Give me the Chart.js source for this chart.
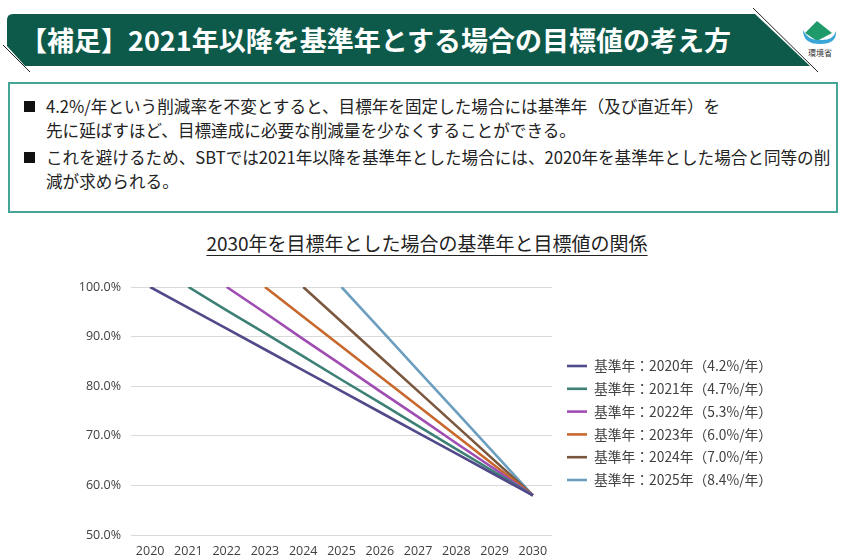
<!DOCTYPE html>
<html lang="ja">
<head>
<meta charset="utf-8">
<title>2030年を目標年とした場合の基準年と目標値の関係</title>
<script src="https://cdn.jsdelivr.net/npm/chart.js@4"></script>
<style>
body { margin: 0; width: 849px; height: 559px; overflow: hidden; background: #fff; position: relative; font-family: "Noto Sans CJK JP", "Noto Sans", sans-serif; color: #222; }
#head { position: absolute; left: 0; top: 0; }
#headTitle { position: absolute; left: 20px; top: 18px; color: #fff; font-weight: bold; font-size: 27px; line-height: 44px; white-space: nowrap; }
#box { position: absolute; left: 8px; top: 82px; width: 826px; height: 127px; border: 2px solid #45a597; }
.item { position: absolute; left: 14px; font-size: 16.6px; line-height: 23.5px; white-space: nowrap; }
.item .sq { position: absolute; left: 0; top: 6px; width: 11px; height: 11px; background: #111; }
.item .tx { margin-left: 22px; }
#chartTitle { position: absolute; left: 0; width: 854px; top: 229px; text-align: center; font-size: 19px; text-decoration: underline; text-underline-offset: 4px; text-decoration-thickness: 1px; white-space: nowrap; }
#wrap { position: absolute; left: 60px; top: 262px; width: 789px; height: 297px; }
</style>
</head>
<body>
<svg id="head" width="849" height="80">
  <path d="M7 20 Q7 14 13 14 L755 14 L810 66 L25 66 L7 46 Z" fill="#0d5a4b"/>
  <line x1="3" y1="45" x2="30" y2="72" stroke="#222" stroke-width="1"/>
  <line x1="753" y1="8" x2="818" y2="72" stroke="#222" stroke-width="1"/>
  <path d="M817 21 L832 33 L817 41 L805 33 Z" fill="#1f9a6a"/>
  <path d="M803 30 Q803 44 820 44 Q837 44 836 31 Q833 41 820 40 Q807 40 803 30 Z" fill="#3aa6d8"/>
  <text x="820" y="56" font-size="8" text-anchor="middle" fill="#333">環境省</text>
</svg>
<div id="headTitle">【補足】2021年以降を基準年とする場合の目標値の考え方</div>
<div id="box">
  <div class="item" style="top:11px"><span class="sq"></span><div class="tx">4.2%/年という削減率を不変とすると、目標年を固定した場合には基準年（及び直近年）を<br>先に延ばすほど、目標達成に必要な削減量を少なくすることができる。</div></div>
  <div class="item" style="top:62px"><span class="sq"></span><div class="tx">これを避けるため、SBTでは2021年以降を基準年とした場合には、2020年を基準年とした場合と同等の削<br>減が求められる。</div></div>
</div>
<div id="chartTitle">2030年を目標年とした場合の基準年と目標値の関係</div>
<div id="wrap"><canvas id="linechart"></canvas></div>
<script>
const years = ['2020', '2021', '2022', '2023', '2024', '2025', '2026', '2027', '2028', '2029', '2030'];

const seriesNames = [
    '基準年：2020年（4.2%/年）',
    '基準年：2021年（4.7%/年）',
    '基準年：2022年（5.3%/年）',
    '基準年：2023年（6.0%/年）',
    '基準年：2024年（7.0%/年）',
    '基準年：2025年（8.4%/年）',
];

// values in % of base year emissions
const base2020 = [100, 95.8, 91.6, 87.4, 83.2, 79.0, 74.8, 70.6, 66.4, 62.2, 58.0];
const base2021 = [null, 100, 95.3, 90.7, 86.0, 81.3, 76.7, 72.0, 67.3, 62.7, 58.0];
const base2022 = [null, null, 100, 94.8, 89.5, 84.3, 79.0, 73.8, 68.5, 63.3, 58.0];
const base2023 = [null, null, null, 100, 94.0, 88.0, 82.0, 76.0, 70.0, 64.0, 58.0];
const base2024 = [null, null, null, null, 100, 93.0, 86.0, 79.0, 72.0, 65.0, 58.0];
const base2025 = [null, null, null, null, null, 100, 91.6, 83.2, 74.8, 66.4, 58.0];

const colors = ['#514a8a', '#3d8075', '#a04db3', '#c8682c', '#7a573e', '#6b9ebf'];

const allSeries = [base2020, base2021, base2022, base2023, base2024, base2025];

const datasets = allSeries.map((vals, i) => ({
    label: seriesNames[i],
    data: vals,
    borderColor: colors[i],
    backgroundColor: colors[i],
    borderWidth: 2.6,
    pointRadius: 0,
    tension: 0,
}));

const tickFont = { family: '"Open Sans", "Noto Sans", sans-serif', size: 12.5 };

const config = {
    type: 'line',
    data: { labels: years, datasets: datasets },
    options: {
        responsive: true,
        maintainAspectRatio: false,
        animation: false,
        layout: { padding: { top: 25, right: 76, bottom: 0, left: 0 } },
        plugins: {
            legend: {
                position: 'right',
                maxWidth: 215,
                labels: {
                    usePointStyle: true,
                    pointStyle: 'line',
                    pointStyleWidth: 20,
                    padding: 9,
                    color: '#404040',
                    font: { family: '"Noto Sans CJK JP", sans-serif', size: 13.8 },
                },
            },
            tooltip: { enabled: false },
        },
        scales: {
            x: {
                offset: true,
                grid: { display: false, drawTicks: false },
                border: { display: false },
                ticks: { color: '#404040', font: tickFont, padding: 9, maxRotation: 0 },
                afterFit: s => { s.height = 24; },
            },
            y: {
                min: 50,
                max: 100,
                grid: { color: '#d9d9d9', drawTicks: false },
                border: { display: false },
                ticks: {
                    stepSize: 10,
                    padding: 10,
                    color: '#404040',
                    font: tickFont,
                    callback: v => v.toFixed(1) + '%',
                },
                afterFit: s => { s.width = 71; },
            },
            gap: {
                position: 'right',
                display: true,
                grid: { display: false },
                border: { display: false },
                ticks: { display: false },
                afterFit: s => { s.width = 6; },
            },
        },
    },
};

const myChart = new Chart(document.getElementById('linechart').getContext('2d'), config);
</script>
</body>
</html>
